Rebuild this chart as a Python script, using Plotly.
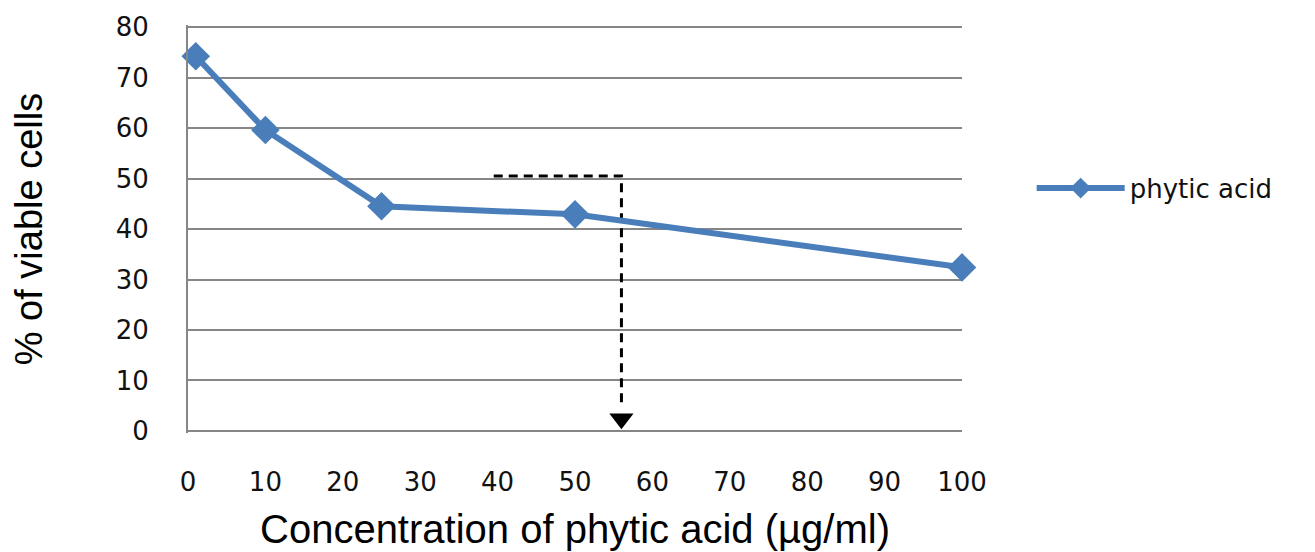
import plotly.graph_objects as go

# Data
concentration = [1, 10, 25, 50, 100]
viable_pct = [74.2, 59.6, 44.5, 42.9, 32.4]
series_name = "phytic acid"

# IC50 guide (dashed) values
guide_x = [39.5, 56, 56]
guide_y = [50.5, 50.5, 4.5]
arrow_x = [56]
arrow_y = [2.4]

x_ticks = [0, 10, 20, 30, 40, 50, 60, 70, 80, 90, 100]
y_ticks = [0, 10, 20, 30, 40, 50, 60, 70, 80]

blue = "#4A7EBB"
grid = "#868686"
tick_font = dict(family="DejaVu Sans", size=26, color="#111111")
xtitle_font = dict(family="Liberation Sans, Arial", size=40, color="#000000")
ytitle_font = dict(family="Liberation Sans, Arial", size=38, color="#000000")

fig = go.Figure()

fig.add_trace(go.Scatter(
    x=guide_x, y=guide_y, mode="lines",
    line=dict(color="black", width=3, dash="9px,6px"),
    showlegend=False, hoverinfo="skip",
))
fig.add_trace(go.Scatter(
    x=arrow_x, y=arrow_y, mode="markers",
    marker=dict(symbol="triangle-down", size=21, color="black"),
    showlegend=False, hoverinfo="skip", cliponaxis=False,
))
fig.add_trace(go.Scatter(
    x=concentration, y=viable_pct, mode="lines+markers", name=series_name,
    line=dict(color=blue, width=6),
    marker=dict(symbol="diamond", size=22, color=blue),
    cliponaxis=False,
))

fig.update_layout(
    width=1307, height=544,
    margin=dict(l=180, r=353, t=17, b=119),
    paper_bgcolor="white", plot_bgcolor="white",
    showlegend=True,
    legend=dict(
        x=1.09, y=0.60, xanchor="left", yanchor="middle",
        font=dict(family="DejaVu Sans", size=26, color="#111111"),
        itemwidth=88, bgcolor="rgba(0,0,0,0)",
    ),
    xaxis=dict(
        range=[0, 100], tickvals=x_ticks, ticktext=[str(v) for v in x_ticks],
        showgrid=False, zeroline=False, showline=False, automargin=False,
        ticks="", ticklabelstandoff=31, tickfont=tick_font,
        title=dict(text="Concentration of phytic acid (µg/ml)", font=xtitle_font, standoff=18),
    ),
    yaxis=dict(
        range=[-0.4, 80.4], tickvals=y_ticks, ticktext=[str(v) for v in y_ticks],
        showgrid=True, gridcolor=grid, gridwidth=1.5, automargin=False,
        zeroline=False, showline=True, linecolor=grid, linewidth=2,
        ticks="", ticklabelstandoff=32, tickfont=tick_font,
        title=dict(text="% of viable cells", font=ytitle_font, standoff=63),
    ),
)

fig.write_html("out.html")
